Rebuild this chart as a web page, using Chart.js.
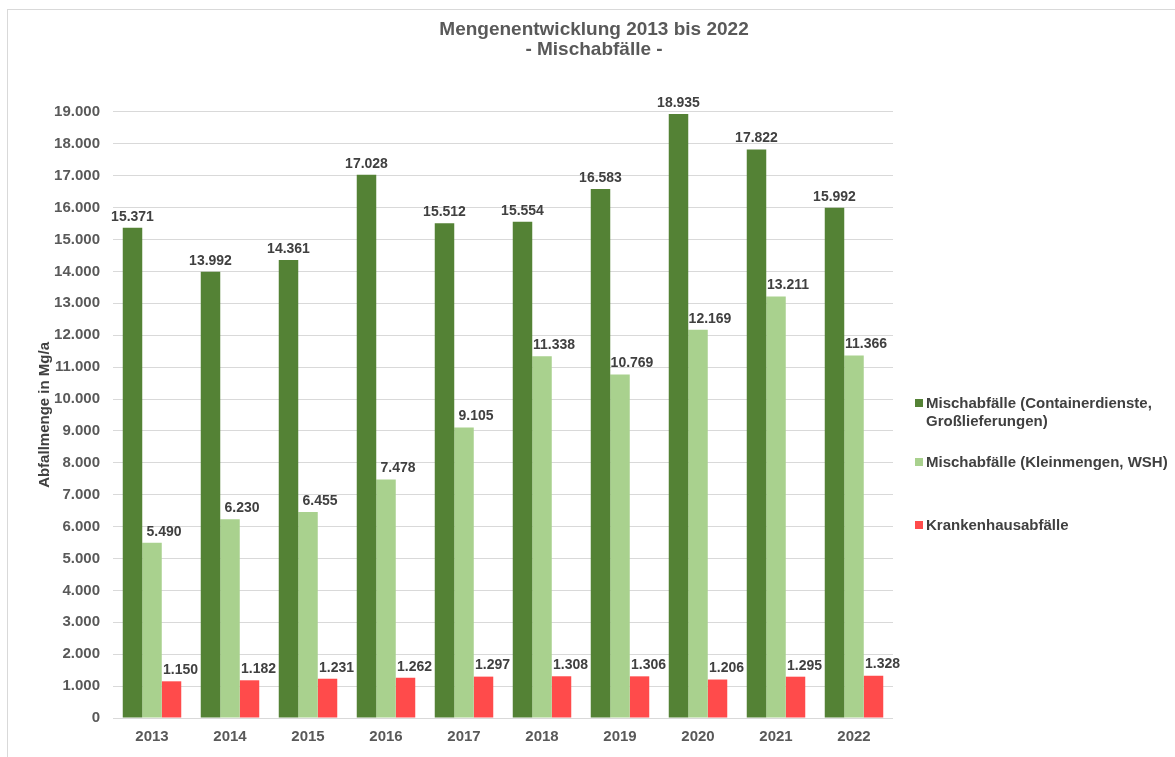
<!DOCTYPE html>
<html>
<head>
<meta charset="utf-8">
<script src="https://cdn.jsdelivr.net/npm/chart.js@4"></script>
<style>
  body { margin: 0; background: #fff; font-family: "Liberation Sans", Arial, sans-serif; }
  #frame { position: absolute; left: 7px; top: 9px; width: 1175px; height: 757px; border: 1px solid #d9d9d9; }
  #wrap { position: absolute; left: 0; top: 0; width: 1175px; height: 757px; }
  #legend { position: absolute; left: 915px; top: 394px; font-weight: bold; font-size: 15px; color: #404040; }
  #legend .item { position: relative; padding-left: 11px; line-height: 18px; }
  #legend .box { position: absolute; left: 0; top: 5px; width: 8px; height: 8px; }
</style>
</head>
<body>
<div id="frame"></div>
<div id="wrap"><canvas id="bar"></canvas></div>
<div id="legend"></div>
<script>
var years = ['2013', '2014', '2015', '2016', '2017', '2018', '2019', '2020', '2021', '2022'];
var container = [15371, 13992, 14361, 17028, 15512, 15554, 16583, 18935, 17822, 15992];
var kleinmengen = [5490, 6230, 6455, 7478, 9105, 11338, 10769, 12169, 13211, 11366];
var krankenhaus = [1150, 1182, 1231, 1262, 1297, 1308, 1306, 1206, 1295, 1328];
var seriesNames = [['Mischabfälle (Containerdienste,', 'Großlieferungen)'], ['Mischabfälle (Kleinmengen, WSH)'], ['Krankenhausabfälle']];

function fmt(v) {
    return String(v).replace(/\B(?=(\d{3})+(?!\d))/g, '.');
}

// value labels above the bars
var valueLabels = {
    id: 'valueLabels',
    afterDatasetsDraw: function (chart) {
        var ctx = chart.ctx;
        var shift = [0, 12, 9];
        ctx.save();
        ctx.font = 'bold 14px "Liberation Sans", Arial, sans-serif';
        ctx.fillStyle = '#404040';
        ctx.textAlign = 'center';
        ctx.textBaseline = 'bottom';
        chart.data.datasets.forEach(function (ds, i) {
            chart.getDatasetMeta(i).data.forEach(function (bar, j) {
                ctx.fillText(fmt(ds.data[j]), bar.x + shift[i], bar.y - 4);
            });
        });
        ctx.restore();
    }
};

// centre the title over the whole frame, not just the plot
var titleCenter = {
    id: 'titleCenter',
    afterLayout: function (chart) {
        var t = chart.titleBlock;
        if (t) { t.left = 13; t.right = 1175; t.width = t.right - t.left; }
    }
};

var ctx = document.getElementById('bar').getContext('2d');
var chart = new Chart(ctx, {
    type: 'bar',
    data: {
        labels: years,
        datasets: [{
            label: seriesNames[0].join(' '),
            backgroundColor: '#548235',
            data: container
        }, {
            label: seriesNames[1].join(' '),
            backgroundColor: '#a9d18e',
            data: kleinmengen
        }, {
            label: seriesNames[2].join(' '),
            backgroundColor: '#ff4b4b',
            data: krankenhaus
        }]
    },
    options: {
        responsive: true,
        maintainAspectRatio: false,
        animation: false,
        layout: { padding: { left: 36, right: 282, top: 10, bottom: 9 } },
        datasets: { bar: { categoryPercentage: 0.75, barPercentage: 1.0 } },
        plugins: {
            legend: { display: false },
            tooltip: { enabled: false },
            title: {
                display: true,
                text: ['Mengenentwicklung 2013 bis 2022', '- Mischabfälle -'],
                color: '#595959',
                font: { family: '"Liberation Sans", Arial, sans-serif', size: 19, weight: 'bold', lineHeight: 1.05 },
                padding: { top: 10, bottom: 52 }
            }
        },
        scales: {
            x: {
                grid: { display: false },
                border: { display: false },
                ticks: {
                    color: '#595959',
                    padding: 2,
                    font: { family: '"Liberation Sans", Arial, sans-serif', size: 15, weight: 'bold' }
                }
            },
            y: {
                min: 0,
                max: 19000,
                afterFit: function (scale) { scale.width = 77; },
                grid: { color: '#d9d9d9', drawTicks: false },
                border: { display: false },
                ticks: {
                    stepSize: 1000,
                    color: '#595959',
                    padding: 13,
                    font: { family: '"Liberation Sans", Arial, sans-serif', size: 15, weight: 'bold' },
                    callback: function (v) { return fmt(v); }
                },
                title: {
                    display: true,
                    text: 'Abfallmenge in Mg/a',
                    color: '#404040',
                    padding: 0,
                    font: { family: '"Liberation Sans", Arial, sans-serif', size: 15, weight: 'bold' }
                }
            }
        }
    },
    plugins: [valueLabels, titleCenter]
});

// legend with wrapped first entry
var legend = document.getElementById('legend');
var tops = [0, 59, 122];
chart.data.datasets.forEach(function (ds, i) {
    var item = document.createElement('div');
    item.className = 'item';
    item.style.position = 'absolute';
    item.style.top = tops[i] + 'px';
    item.style.whiteSpace = 'nowrap';
    var box = document.createElement('span');
    box.className = 'box';
    box.style.background = ds.backgroundColor;
    item.appendChild(box);
    seriesNames[i].forEach(function (line) {
        var d = document.createElement('div');
        d.textContent = line;
        item.appendChild(d);
    });
    legend.appendChild(item);
});
</script>
</body>
</html>
